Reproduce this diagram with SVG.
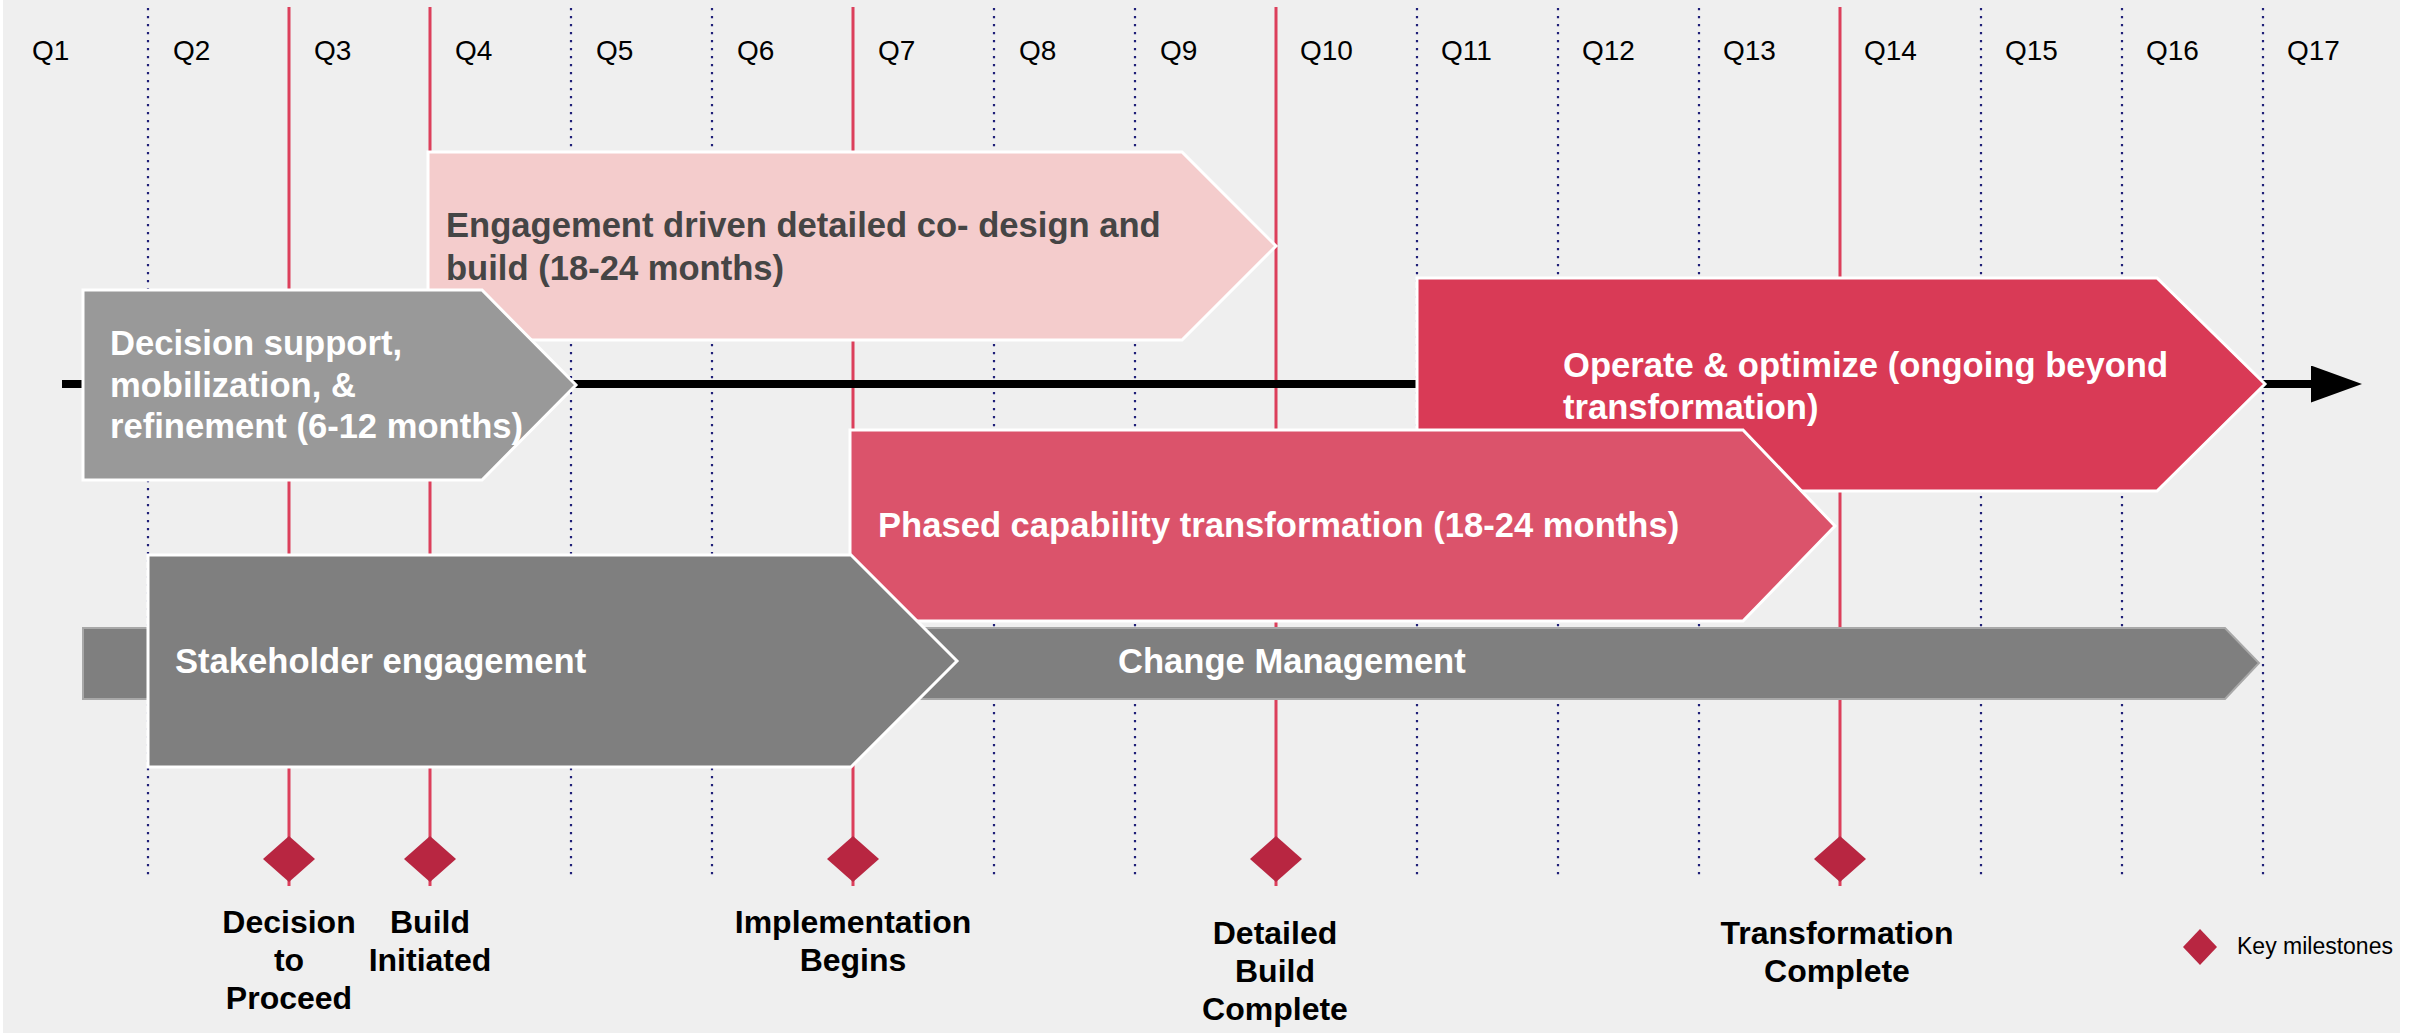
<svg xmlns="http://www.w3.org/2000/svg" width="2420" height="1033" viewBox="0 0 2420 1033">
<defs>
<style>
.bg{fill:#efefef}
.grid{stroke:#1f1f78;stroke-width:2.2;stroke-dasharray:2.2 5.8;fill:none}
.ms{stroke:#dc3f5b;stroke-width:3;fill:none}
.q{font-family:"Liberation Sans",Arial,sans-serif;font-size:28px;fill:#000}
.box{stroke:#fff;stroke-width:3;stroke-linejoin:miter}
.bt{font-family:"Liberation Sans",Arial,sans-serif;font-size:34.6px;font-weight:bold;fill:#fff}
.dark{fill:#454545}
.ml{font-family:"Liberation Sans",Arial,sans-serif;font-size:32px;font-weight:bold;fill:#000;text-anchor:middle}
.dia{fill:#b82641}
.leg{font-family:"Liberation Sans",Arial,sans-serif;font-size:23px;fill:#000}
</style>
<marker id="ah" markerUnits="userSpaceOnUse" markerWidth="52" markerHeight="38" refX="0" refY="18.5" orient="auto"><path d="M0,0 L51,18.5 L0,37 Z" fill="#000"/></marker>
</defs>
<rect class="bg" x="3" y="0" width="2397" height="1033"/>
<g id="grid">
<line class="grid" x1="148" y1="8" x2="148" y2="880"/>
<line class="grid" x1="571" y1="8" x2="571" y2="880"/>
<line class="grid" x1="712" y1="8" x2="712" y2="880"/>
<line class="grid" x1="994" y1="8" x2="994" y2="880"/>
<line class="grid" x1="1135" y1="8" x2="1135" y2="880"/>
<line class="grid" x1="1417" y1="8" x2="1417" y2="880"/>
<line class="grid" x1="1558" y1="8" x2="1558" y2="880"/>
<line class="grid" x1="1699" y1="8" x2="1699" y2="880"/>
<line class="grid" x1="1981" y1="8" x2="1981" y2="880"/>
<line class="grid" x1="2122" y1="8" x2="2122" y2="880"/>
<line class="grid" x1="2263" y1="8" x2="2263" y2="880"/>
<line class="ms" x1="289" y1="7" x2="289" y2="886"/>
<line class="ms" x1="430" y1="7" x2="430" y2="886"/>
<line class="ms" x1="853" y1="7" x2="853" y2="886"/>
<line class="ms" x1="1276" y1="7" x2="1276" y2="886"/>
<line class="ms" x1="1840" y1="7" x2="1840" y2="886"/>
</g>
<g id="quarters">
<text class="q" x="32" y="60">Q1</text>
<text class="q" x="173" y="60">Q2</text>
<text class="q" x="314" y="60">Q3</text>
<text class="q" x="455" y="60">Q4</text>
<text class="q" x="596" y="60">Q5</text>
<text class="q" x="737" y="60">Q6</text>
<text class="q" x="878" y="60">Q7</text>
<text class="q" x="1019" y="60">Q8</text>
<text class="q" x="1160" y="60">Q9</text>
<text class="q" x="1300" y="60">Q10</text>
<text class="q" x="1441" y="60">Q11</text>
<text class="q" x="1582" y="60">Q12</text>
<text class="q" x="1723" y="60">Q13</text>
<text class="q" x="1864" y="60">Q14</text>
<text class="q" x="2005" y="60">Q15</text>
<text class="q" x="2146" y="60">Q16</text>
<text class="q" x="2287" y="60">Q17</text>
</g>
<g id="connectors">
<line x1="62" y1="384" x2="2311" y2="384" stroke="#000" stroke-width="8" marker-end="url(#ah)"/>
</g>
<g id="change-management">
<polygon points="83,628 2225,628 2259,663 2225,699 83,699" fill="#7f7f7f" stroke="#a8a8a8" stroke-width="2"/>
<text class="bt" x="1118" y="673">Change Management</text>
</g>
<g id="engagement-build">
<polygon class="box" points="428,152 1182,152 1276,246 1182,340 428,340" fill="#f4cccc"/>
<text class="bt dark" x="446" y="237">Engagement driven detailed co- design and</text>
<text class="bt dark" x="446" y="280">build (18-24 months)</text>
</g>
<g id="operate-optimize">
<polygon class="box" points="1417,278 2157,278 2265,384 2157,491 1417,491" fill="#d93a56"/>
<text class="bt" x="1563" y="377">Operate &amp; optimize (ongoing beyond</text>
<text class="bt" x="1563" y="419">transformation)</text>
</g>
<g id="phased-transformation">
<polygon class="box" points="850,430 1743,430 1835,526 1743,621 850,621" fill="#db536b"/>
<text class="bt" x="878" y="537">Phased capability transformation (18-24 months)</text>
</g>
<g id="decision-support">
<polygon class="box" points="83,290 482,290 576,385 482,480 83,480" fill="#999999"/>
<text class="bt" x="110" y="355">Decision support,</text>
<text class="bt" x="110" y="397">mobilization, &amp;</text>
<text class="bt" x="110" y="438">refinement (6-12 months)</text>
</g>
<g id="stakeholder-engagement">
<polygon class="box" points="148,555 851,555 957,661 851,767 148,767" fill="#7f7f7f"/>
<text class="bt" x="175" y="673">Stakeholder engagement</text>
</g>
<g id="milestone-decision">
<polygon class="dia" points="289,836 315,859 289,882 263,859"/>
<text class="ml"><tspan x="289" y="933">Decision</tspan><tspan x="289" y="971">to</tspan><tspan x="289" y="1009">Proceed</tspan></text>
</g>
<g id="milestone-build">
<polygon class="dia" points="430,836 456,859 430,882 404,859"/>
<text class="ml"><tspan x="430" y="933">Build</tspan><tspan x="430" y="971">Initiated</tspan></text>
</g>
<g id="milestone-implementation">
<polygon class="dia" points="853,836 879,859 853,882 827,859"/>
<text class="ml"><tspan x="853" y="933">Implementation</tspan><tspan x="853" y="971">Begins</tspan></text>
</g>
<g id="milestone-detailed">
<polygon class="dia" points="1276,836 1302,859 1276,882 1250,859"/>
<text class="ml"><tspan x="1275" y="944">Detailed</tspan><tspan x="1275" y="982">Build</tspan><tspan x="1275" y="1020">Complete</tspan></text>
</g>
<g id="milestone-transformation">
<polygon class="dia" points="1840,836 1866,859 1840,882 1814,859"/>
<text class="ml"><tspan x="1837" y="944">Transformation</tspan><tspan x="1837" y="982">Complete</tspan></text>
</g>
<g id="legend">
<polygon class="dia" points="2200,929 2217,947 2200,965 2183,947"/>
<text class="leg" x="2237" y="954">Key milestones</text>
</g>
</svg>
